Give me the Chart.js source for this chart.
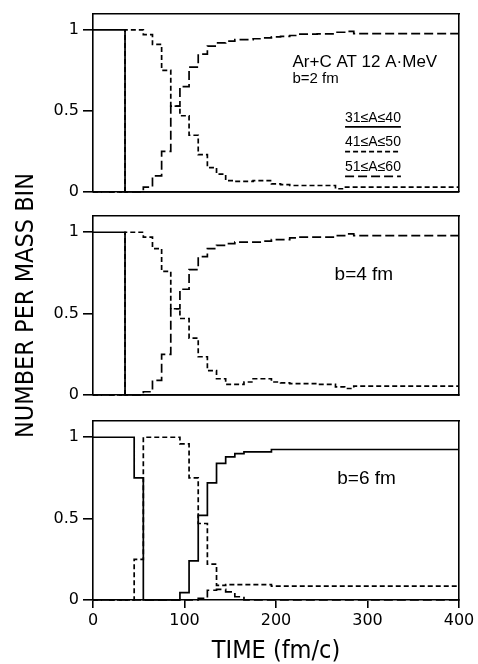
<!DOCTYPE html>
<html>
<head>
<meta charset="utf-8">
<script src="https://cdn.jsdelivr.net/npm/chart.js@4.4.1/dist/chart.umd.min.js"></script>
<style>
  html, body { margin: 0; padding: 0; background: #fff; }
  #wrap { position: relative; width: 478px; height: 664px; overflow: hidden; }
  #wrap canvas { position: absolute; left: 0; top: 0; }
</style>
</head>
<body>
<div id="wrap">
  <canvas id="p1" width="478" height="664"></canvas>
  <canvas id="p2" width="478" height="664"></canvas>
  <canvas id="p3" width="478" height="664"></canvas>
</div>
<script>
// Start of each 10 fm/c time bin; a bin value holds until the next start.
const binStart = [0, 5, 15, 25, 35, 45, 55, 65, 75, 85,
                  95, 105, 115, 125, 135, 145, 155, 165, 175, 185,
                  195, 205, 215, 225, 235, 245, 255, 265, 275, 285,
                  295, 305, 315, 325, 335, 345, 355, 365, 375, 385, 395];
const timeEnd = 400;

// b = 2 fm
const b2_A31_40 = [1, 1, 1, 1, 0, 0, 0, 0, 0, 0,
                   0, 0, 0, 0, 0, 0, 0, 0, 0, 0,
                   0, 0, 0, 0, 0, 0, 0, 0, 0, 0,
                   0, 0, 0, 0, 0, 0, 0, 0, 0, 0, 0];
const b2_A41_50 = [0, 0, 0, 0, 1, 1, 0.97, 0.91, 0.75, 0.53,
                   0.47, 0.35, 0.23, 0.15, 0.11, 0.07, 0.065, 0.065, 0.07, 0.07,
                   0.05, 0.045, 0.04, 0.04, 0.04, 0.04, 0.04, 0.02, 0.03, 0.03,
                   0.03, 0.03, 0.03, 0.03, 0.03, 0.03, 0.03, 0.03, 0.03, 0.03, 0.03];
const b2_A51_60 = [0, 0, 0, 0, 0, 0, 0.03, 0.10, 0.25, 0.53,
                   0.65, 0.77, 0.85, 0.90, 0.92, 0.93, 0.94, 0.94, 0.945, 0.95,
                   0.957, 0.96, 0.965, 0.974, 0.974, 0.975, 0.975, 0.985, 0.99, 0.976,
                   0.976, 0.976, 0.976, 0.976, 0.976, 0.976, 0.976, 0.976, 0.976, 0.976, 0.976];

// b = 4 fm
const b4_A31_40 = [1, 1, 1, 1, 0, 0, 0, 0, 0, 0,
                   0, 0, 0, 0, 0, 0, 0, 0, 0, 0,
                   0, 0, 0, 0, 0, 0, 0, 0, 0, 0,
                   0, 0, 0, 0, 0, 0, 0, 0, 0, 0, 0];
const b4_A41_50 = [0, 0, 0, 0, 1, 1, 0.97, 0.90, 0.76, 0.53,
                   0.47, 0.35, 0.235, 0.15, 0.10, 0.065, 0.065, 0.08, 0.10, 0.10,
                   0.08, 0.075, 0.07, 0.07, 0.07, 0.065, 0.065, 0.05, 0.04, 0.055,
                   0.055, 0.055, 0.055, 0.055, 0.055, 0.055, 0.055, 0.055, 0.055, 0.055, 0.055];
const b4_A51_60 = [0, 0, 0, 0, 0, 0, 0.02, 0.09, 0.25, 0.53,
                   0.65, 0.77, 0.85, 0.90, 0.92, 0.93, 0.94, 0.94, 0.94, 0.945,
                   0.955, 0.955, 0.965, 0.97, 0.97, 0.97, 0.97, 0.98, 0.99, 0.98,
                   0.98, 0.98, 0.98, 0.98, 0.98, 0.98, 0.98, 0.98, 0.98, 0.98, 0.98];

// b = 6 fm
const b6_A31_40 = [1, 1, 1, 1, 1, 0.75, 0, 0, 0, 0,
                   0.045, 0.24, 0.52, 0.72, 0.84, 0.88, 0.90, 0.91, 0.91, 0.91,
                   0.925, 0.925, 0.925, 0.925, 0.925, 0.925, 0.925, 0.925, 0.925, 0.925,
                   0.925, 0.925, 0.925, 0.925, 0.925, 0.925, 0.925, 0.925, 0.925, 0.925, 0.925];
const b6_A41_50 = [0, 0, 0, 0, 0, 0.25, 1, 1, 1, 1,
                   0.96, 0.75, 0.47, 0.22, 0.09, 0.095, 0.095, 0.095, 0.095, 0.095,
                   0.085, 0.085, 0.085, 0.085, 0.085, 0.085, 0.085, 0.085, 0.085, 0.085,
                   0.085, 0.085, 0.085, 0.085, 0.085, 0.085, 0.085, 0.085, 0.085, 0.085, 0.085];
const b6_A51_60 = [0, 0, 0, 0, 0, 0, 0, 0, 0, 0,
                   0, 0, 0.01, 0.06, 0.065, 0.05, 0.02, 0, 0, 0,
                   0, 0, 0, 0, 0, 0, 0, 0, 0, 0,
                   0, 0, 0, 0, 0, 0, 0, 0, 0, 0, 0];

const massBins = ['31≤A≤40', '41≤A≤50', '51≤A≤60'];
const impactLabels = ['b=2 fm', 'b=4 fm', 'b=6 fm'];
const reactionLabel = 'Ar+C AT 12 A·MeV';
const xTickValues = [0, 100, 200, 300, 400];
const yTickValues = [0, 0.5, 1];
const xTitle = 'TIME (fm/c)';
const yTitle = 'NUMBER PER MASS BIN';

// ---- styling ----
const INK = '#000';
const lineDash = [[], [5, 3], [9, 4]];
const tickFont = { family: "'DejaVu Sans', 'Liberation Sans', sans-serif", size: 16 };
const titleFont = { family: "'Liberation Sans Narrow', 'DejaVu Sans Condensed', 'Roboto Condensed', 'Roboto', sans-serif", size: 25, lineHeight: 1 };
const noteFamily = "'Liberation Sans', Arial, sans-serif";
const PAGE_H = 664, PLOT_LEFT = 93, PLOT_RIGHT = 459, PAGE_W = 478;

function stepPoints(values) {
  const pts = binStart.map((t, i) => ({ x: t, y: values[i] }));
  pts.push({ x: timeEnd, y: values[values.length - 1] });
  return pts;
}

// Text labels and the mass-bin key, placed in data units.
const notesPlugin = {
  id: 'notes',
  afterDatasetsDraw(chart, args, opts) {
    const { ctx } = chart;
    const x = chart.scales.x, y = chart.scales.y;
    ctx.save();
    ctx.fillStyle = INK;
    ctx.strokeStyle = INK;
    ctx.textBaseline = 'middle';
    (opts.texts || []).forEach(t => {
      ctx.font = t.font;
      ctx.textAlign = 'left';
      ctx.fillText(t.text, x.getPixelForValue(t.x), y.getPixelForValue(t.y));
    });
    (opts.keys || []).forEach(k => {
      ctx.font = k.font;
      ctx.textAlign = 'center';
      const cx = x.getPixelForValue(k.x), cy = y.getPixelForValue(k.y);
      ctx.fillText(k.text, cx, cy);
      const w = ctx.measureText(k.text).width;
      ctx.setLineDash(chart.data.datasets[k.series].borderDash || []);
      ctx.lineWidth = 1.7;
      ctx.beginPath();
      ctx.moveTo(cx - w / 2, cy + 9);
      ctx.lineTo(cx + w / 2, cy + 9);
      ctx.stroke();
    });
    ctx.restore();
  }
};

const panels = [
  { id: 'p1', top: 12, bottom: 192, series: [b2_A31_40, b2_A41_50, b2_A51_60],
    texts: [
      { text: reactionLabel, x: 218, y: 0.80, font: `17px ${noteFamily}` },
      { text: impactLabels[0], x: 218, y: 0.695, font: `15px ${noteFamily}` }
    ],
    keys: [
      { text: massBins[0], series: 0, x: 306, y: 0.457, font: `14px ${noteFamily}` },
      { text: massBins[1], series: 1, x: 306, y: 0.305, font: `14px ${noteFamily}` },
      { text: massBins[2], series: 2, x: 306, y: 0.152, font: `14px ${noteFamily}` }
    ] },
  { id: 'p2', top: 216, bottom: 395, series: [b4_A31_40, b4_A41_50, b4_A51_60], yTitle: true,
    texts: [{ text: impactLabels[1], x: 264, y: 0.736, font: `19px ${noteFamily}` }] },
  { id: 'p3', top: 421, bottom: 600, series: [b6_A31_40, b6_A41_50, b6_A51_60], xAxis: true,
    texts: [{ text: impactLabels[2], x: 267, y: 0.744, font: `19px ${noteFamily}` }] }
];

const frameBorder = { display: true, color: INK, width: 1.6 };

panels.forEach(p => {
  new Chart(document.getElementById(p.id), {
    type: 'line',
    data: {
      datasets: p.series.map((vals, k) => ({
        label: massBins[k],
        data: stepPoints(vals),
        stepped: true,
        borderColor: INK,
        borderWidth: 1.7,
        borderDash: lineDash[k],
        pointRadius: 0,
        fill: false,
        clip: false
      }))
    },
    options: {
      responsive: false,
      animation: false,
      devicePixelRatio: 1,
      layout: { padding: 0 },
      plugins: {
        legend: { display: false },
        tooltip: { enabled: false },
        notes: { texts: p.texts || [], keys: p.keys || [] }
      },
      scales: {
        x: {
          type: 'linear', position: 'bottom', min: 0, max: timeEnd,
          afterBuildTicks: s => { s.ticks = xTickValues.map(v => ({ value: v })); },
          ticks: { display: !!p.xAxis, font: tickFont, color: INK, padding: 3, maxRotation: 0, autoSkip: false,
                   callback: v => String(v) },
          grid: { display: !!p.xAxis, drawOnChartArea: false, drawTicks: true, tickLength: 8, color: INK, lineWidth: 1.6 },
          border: frameBorder,
          title: { display: !!p.xAxis, text: xTitle, font: titleFont, color: INK, padding: 0 },
          afterFit: s => { s.height = PAGE_H - p.bottom; }
        },
        xTop: {
          type: 'linear', position: 'top', min: 0, max: timeEnd,
          ticks: { display: false }, grid: { display: false }, border: frameBorder,
          afterFit: s => { s.height = p.top; }
        },
        y: {
          type: 'linear', position: 'left', min: 0, max: 1.1,
          afterBuildTicks: s => { s.ticks = yTickValues.map(v => ({ value: v })); },
          ticks: { font: tickFont, color: INK, padding: 4, callback: v => String(v) },
          grid: { drawOnChartArea: false, drawTicks: true, tickLength: 10, color: INK, lineWidth: 1.6 },
          border: frameBorder,
          title: { display: !!p.yTitle, text: yTitle, font: titleFont, color: INK, padding: { top: 14 } },
          afterFit: s => { s.width = PLOT_LEFT; }
        },
        yRight: {
          type: 'linear', position: 'right', min: 0, max: 1.1,
          ticks: { display: false }, grid: { display: false }, border: frameBorder,
          afterFit: s => { s.width = PAGE_W - PLOT_RIGHT; }
        }
      }
    },
    plugins: [notesPlugin]
  });
});
</script>
</body>
</html>
